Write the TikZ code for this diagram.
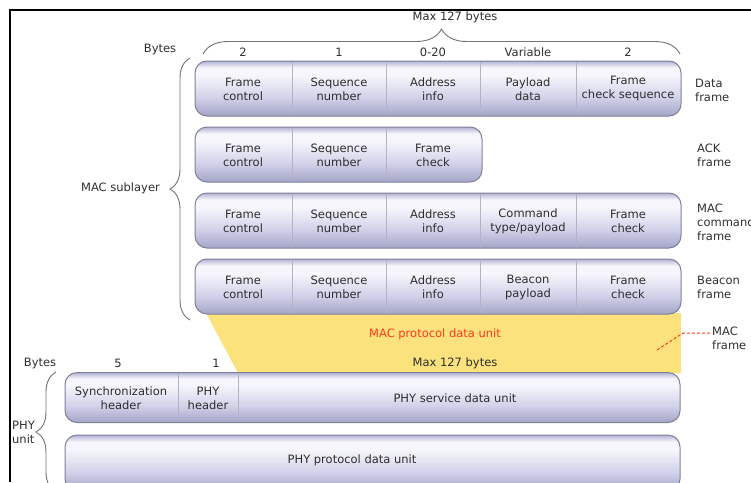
\documentclass[tikz,border=0pt]{standalone}
\usepackage{fontspec}
\setmainfont{DejaVu Sans}
\usetikzlibrary{decorations.pathreplacing}
\definecolor{pillTop}{HTML}{B2B2D4}
\definecolor{pillHi}{HTML}{F6F6FC}
\definecolor{pillMid}{HTML}{D2D2EA}
\definecolor{pillBot}{HTML}{A4A4C8}
\definecolor{pillEdge}{HTML}{80809A}
\definecolor{macYellow}{HTML}{FBE27C}
\definecolor{macRed}{HTML}{FF3A1E}
\definecolor{txtGray}{HTML}{2E2E2E}
\pgfdeclareverticalshading{pillshade}{100bp}{color(0bp)=(pillBot); color(25bp)=(pillBot); color(42bp)=(pillMid); color(62bp)=(pillHi); color(69bp)=(pillHi); color(75bp)=(pillTop); color(100bp)=(pillTop)}
\tikzset{
  pill/.style={rectangle, draw=pillEdge, line width=1pt, rounded corners=12pt, shade, shading=pillshade, inner sep=0pt},
  field/.style={align=center, font=\fontsize{11.5}{14}\selectfont, text=txtGray, inner sep=0pt},
  note/.style={align=left, anchor=west, font=\fontsize{11.5}{14}\selectfont, text=txtGray, inner sep=0pt},
  sep/.style={draw=pillEdge!60, line width=0.6pt},
  bracel/.style={decorate, decoration={brace, amplitude=#1}, draw=gray!90!black, line width=0.9pt}
}

\begin{document}
\begin{tikzpicture}[x=1pt, y=-1pt]
\useasboundingbox (0,0) rectangle (751,482);

% Frame of the figure
\draw[line width=2pt] (10,482) -- (10,10) -- (751,10);

% MAC protocol data unit (yellow)
\fill[macYellow] (206,313) -- (681,313) -- (681,373) -- (238,373) -- cycle;

% MAC frames
\node[pill, minimum width=486, minimum height=55] (data) at (438,88.5) {};
\node[pill, minimum width=287, minimum height=55] (ack) at (338.5,154.5) {};
\node[pill, minimum width=486, minimum height=55] (cmd) at (438,220.5) {};
\node[pill, minimum width=486, minimum height=55] (beacon) at (438,286.5) {};

% Field separators
\foreach \x in {292,386,480,576} {
  \draw[sep] (\x,62) -- (\x,115);
  \draw[sep] (\x,194) -- (\x,247);
  \draw[sep] (\x,260) -- (\x,313);
}
\foreach \x in {292,386} \draw[sep] (\x,128) -- (\x,181);

% Data frame fields
\node[field] (dfc) at (243,89) {Frame\\control};
\node[field] (dsn) at (339,89) {Sequence\\number};
\node[field] (dai) at (433,89) {Address\\info};
\node[field] (dpd) at (528,89) {Payload\\data};
\node[field] (dfcs) at (628,89) {Frame\\check sequence};

% ACK frame fields
\node[field] (afc) at (243,155) {Frame\\control};
\node[field] (asn) at (339,155) {Sequence\\number};
\node[field] (afk) at (433,155) {Frame\\check};

% MAC command frame fields
\node[field] (cfc) at (243,221) {Frame\\control};
\node[field] (csn) at (339,221) {Sequence\\number};
\node[field] (cai) at (433,221) {Address\\info};
\node[field] (ctp) at (528,221) {Command\\type/payload};
\node[field] (cfk) at (628,221) {Frame\\check};

% Beacon frame fields
\node[field] (bfc) at (243,287) {Frame\\control};
\node[field] (bsn) at (339,287) {Sequence\\number};
\node[field] (bai) at (433,287) {Address\\info};
\node[field] (bbp) at (528,287) {Beacon\\payload};
\node[field] (bfk) at (628,287) {Frame\\check};

% Byte counts (MAC)
\node[field] (bytes1) at (160,50) {Bytes};
\node[field] (n1) at (243,52) {2};
\node[field] (n2) at (339,52) {1};
\node[field] (n3) at (433,52) {0-20};
\node[field] (n4) at (528,52) {Variable};
\node[field] (n5) at (628,52) {2};
\draw[bracel=25pt] (203,54) -- (680,54);
\node[field] (max1) at (455,17) {Max 127 bytes};

% Frame names
\node[note] (ldata) at (695,90) {Data\\frame};
\node[note] (lack) at (697,155) {ACK\\frame};
\node[note] (lcmd) at (697,222) {MAC\\command\\frame};
\node[note] (lbeacon) at (697,287) {Beacon\\frame};

% MAC sublayer
\draw[bracel=20pt] (190,320) -- (190,58);
\node[field, anchor=east] (macsub) at (160,188) {MAC sublayer};

% Inside the yellow area
\node[field, text=macRed] (mpdu) at (435,334) {MAC protocol data unit};
\node[field] (max2) at (455,363) {Max 127 bytes};
\coordinate (mpdu-pt) at (657,350);
\node[note] (macframe) at (712,338) {MAC\\frame};
\draw[macRed, densely dashed, line width=1pt] (mpdu-pt) -- (683,333) -- (macframe.west |- 683,333);

% PHY layer
\node[field] (bytes2) at (40,363) {Bytes};
\node[field] (p1) at (118,363) {5};
\node[field] (p2) at (216,363) {1};
\node[pill, minimum width=615, minimum height=50] (phy) at (372.5,397.5) {};
\draw[sep] (178,374) -- (178,421);
\draw[sep] (238,374) -- (238,421);
\node[field] (sync) at (121,398) {Synchronization\\header};
\node[field] (phyh) at (208,398) {PHY\\header};
\node[field] (psdu) at (455,398) {PHY service data unit};
\node[pill, minimum width=615, minimum height=56] (ppdu) at (372.5,463) {};
\node[field] (ppdut) at (352,460) {PHY protocol data unit};

% PHY unit
\draw[bracel=20pt] (56,492) -- (56,372);
\node[note] (phyunit) at (12,432) {PHY\\unit};

\end{tikzpicture}
\end{document}
